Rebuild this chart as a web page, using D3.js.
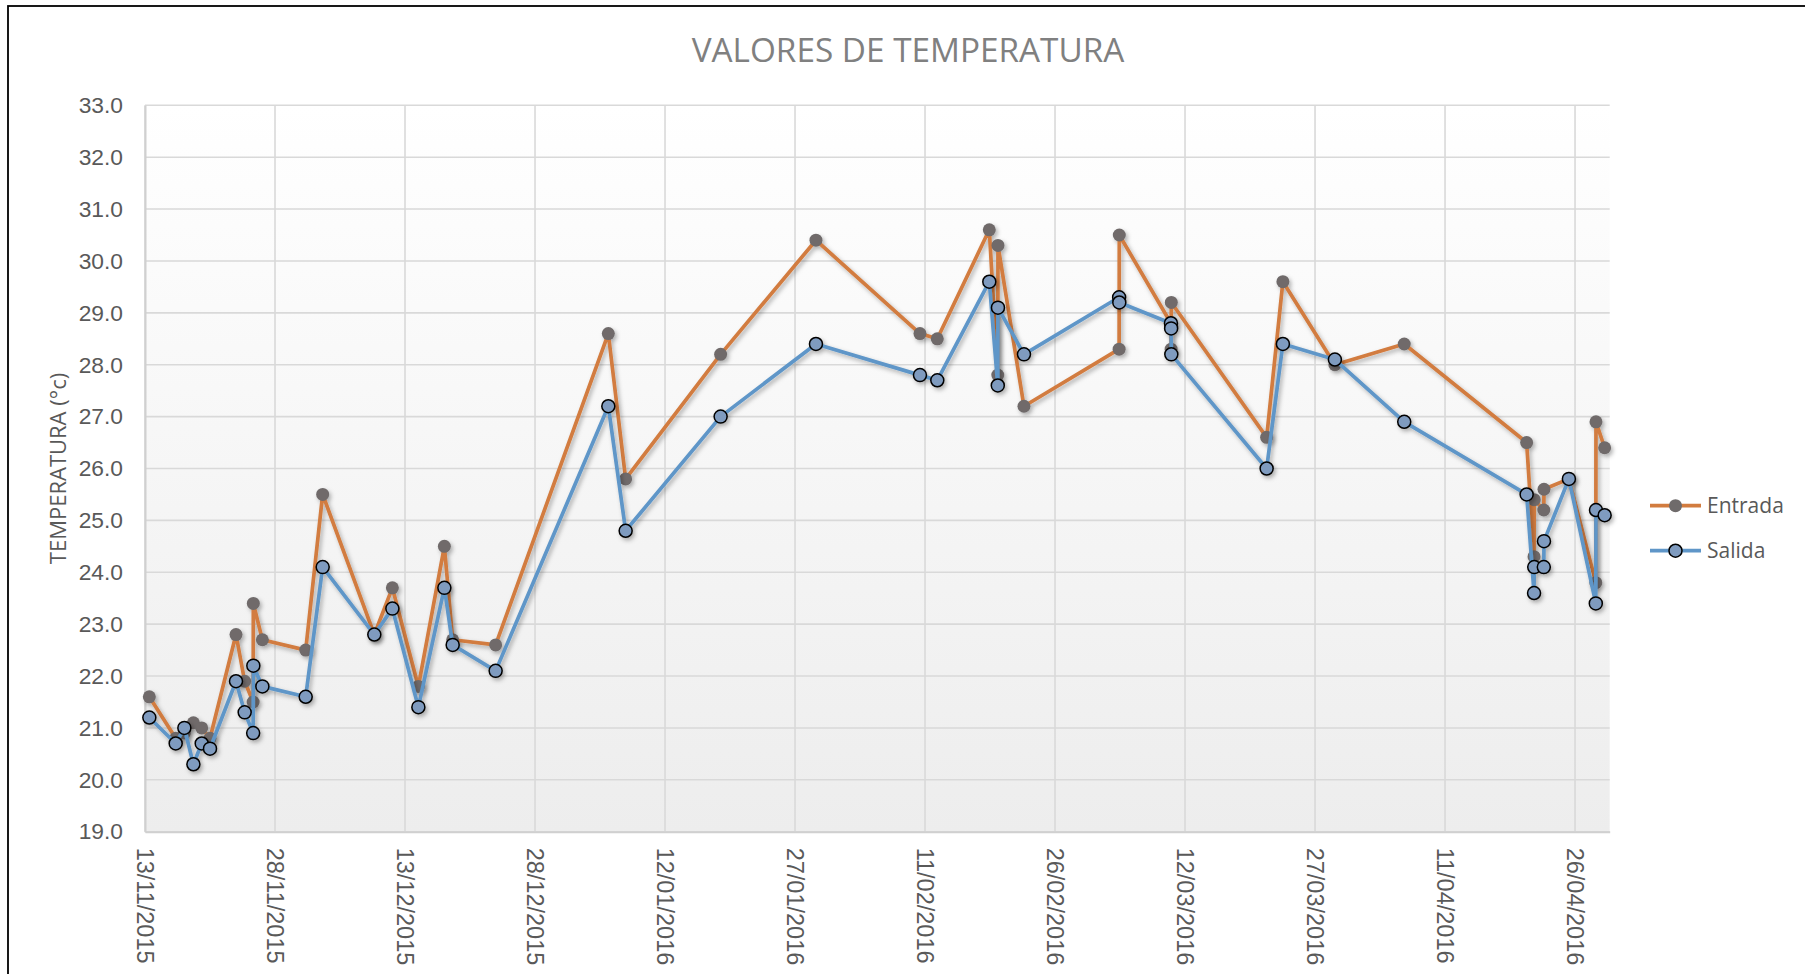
<!DOCTYPE html>
<html>
<head>
<meta charset="utf-8">
<script src="https://cdn.jsdelivr.net/npm/d3@7"></script>
<style>
  html, body { margin: 0; padding: 0; background: #ffffff; }
  svg { display: block; font-family: "Open Sans", "Noto Sans", sans-serif; }
</style>
</head>
<body>
<svg id="chart" width="1805" height="974"></svg>
<script>
// ---- data ----
const title = "VALORES DE TEMPERATURA";
const yAxisTitle = "TEMPERATURA (°c)";
const seriesNames = ["Entrada", "Salida"];

const dates = [
  "2015-11-13T12:00", "2015-11-16T13:00", "2015-11-17T13:00", "2015-11-18T14:00",
  "2015-11-19T13:00", "2015-11-20T12:00", "2015-11-23T12:00", "2015-11-24T12:00",
  "2015-11-25T11:30", "2015-11-25T12:00", "2015-11-26T13:00", "2015-12-01T13:00",
  "2015-12-03T12:00", "2015-12-09T11:00", "2015-12-11T13:00", "2015-12-14T13:00",
  "2015-12-17T13:00", "2015-12-18T12:00", "2015-12-23T11:00", "2016-01-05T11:00",
  "2016-01-07T11:00", "2016-01-18T10:00", "2016-01-29T10:00", "2016-02-10T10:00",
  "2016-02-12T10:00", "2016-02-18T10:00", "2016-02-19T09:30", "2016-02-19T10:00",
  "2016-02-22T10:00", "2016-03-04T09:30", "2016-03-04T10:00", "2016-03-10T09:00",
  "2016-03-10T09:30", "2016-03-10T10:00", "2016-03-21T10:00", "2016-03-23T07:00",
  "2016-03-29T07:00", "2016-04-06T07:00", "2016-04-20T10:00", "2016-04-21T06:30",
  "2016-04-21T07:00", "2016-04-22T09:30", "2016-04-22T10:00", "2016-04-25T07:00",
  "2016-04-28T09:30", "2016-04-28T10:00", "2016-04-29T10:00"
];

const entrada = [
  21.6, 20.8, 20.9, 21.1, 21.0, 20.8, 22.8, 21.9,
  21.5, 23.4, 22.7, 22.5, 25.5, 22.8, 23.7, 21.8,
  24.5, 22.7, 22.6, 28.6, 25.8, 28.2, 30.4, 28.6,
  28.5, 30.6, 27.8, 30.3, 27.2, 28.3, 30.5, 28.8,
  28.3, 29.2, 26.6, 29.6, 28.0, 28.4, 26.5, 24.3,
  25.4, 25.2, 25.6, 25.8, 23.8, 26.9, 26.4
];

const salida = [
  21.2, 20.7, 21.0, 20.3, 20.7, 20.6, 21.9, 21.3,
  20.9, 22.2, 21.8, 21.6, 24.1, 22.8, 23.3, 21.4,
  23.7, 22.6, 22.1, 27.2, 24.8, 27.0, 28.4, 27.8,
  27.7, 29.6, 27.6, 29.1, 28.2, 29.3, 29.2, 28.8,
  28.7, 28.2, 26.0, 28.4, 28.1, 26.9, 25.5, 23.6,
  24.1, 24.1, 24.6, 25.8, 23.4, 25.2, 25.1
];

const xDomain = ["2015-11-13T00:00", "2016-04-30T00:00"];
const xTickStepDays = 15;
const yDomain = [19, 33];
const yTicks = [19, 20, 21, 22, 23, 24, 25, 26, 27, 28, 29, 30, 31, 32, 33];

// ---- styles ----
const colors = {
  entradaLine: "#d27c3f",
  entradaMarker: "#6f6b6b",
  salidaLine: "#5f96c8",
  salidaMarker: "#7f9bbf",
  text: "#595959",
  title: "#808080",
  grid: "#d9d9d9"
};

const margin = { left: 145, top: 105.3, right: 1609.7, bottom: 831.7 };

const parse = d3.utcParse("%Y-%m-%dT%H:%M");
const fmt = d3.utcFormat("%d/%m/%Y");

const svg = d3.select("#chart");

// defs: gradient + shadow
const defs = svg.append("defs");
const grad = defs.append("linearGradient").attr("id", "plotBg")
  .attr("x1", 0).attr("y1", 0).attr("x2", 0).attr("y2", 1);
grad.append("stop").attr("offset", "0%").attr("stop-color", "#ffffff");
grad.append("stop").attr("offset", "100%").attr("stop-color", "#ededed");

const shadow = defs.append("filter").attr("id", "shadow")
  .attr("x", "-20%").attr("y", "-20%").attr("width", "140%").attr("height", "140%");
shadow.append("feDropShadow").attr("dx", 2).attr("dy", 2.5)
  .attr("stdDeviation", 2).attr("flood-color", "#000").attr("flood-opacity", 0.3);

// chart border (only left/top visible)
svg.append("rect")
  .attr("x", 8).attr("y", 6).attr("width", 2000).attr("height", 2000)
  .attr("fill", "none").attr("stroke", "#000").attr("stroke-width", 1.8);

// scales
const x = d3.scaleUtc()
  .domain(xDomain.map(parse))
  .range([margin.left, margin.right]);
const y = d3.scaleLinear()
  .domain(yDomain)
  .range([margin.bottom, margin.top]);

const xStart = parse(xDomain[0]);
const xEnd = parse(xDomain[1]);
const xTicks = d3.utcDay.every(1).range(xStart, d3.utcDay.offset(xEnd, 1))
  .filter((d, i) => i % xTickStepDays === 0);

// plot background
svg.append("rect")
  .attr("x", margin.left).attr("y", margin.top)
  .attr("width", margin.right - margin.left)
  .attr("height", margin.bottom - margin.top)
  .attr("fill", "url(#plotBg)");

// gridlines
const grid = svg.append("g");
grid.selectAll("line.h").data(yTicks).join("line")
  .attr("x1", margin.left).attr("x2", margin.right)
  .attr("y1", d => y(d)).attr("y2", d => y(d))
  .attr("stroke", colors.grid).attr("stroke-width", 1.6);
grid.selectAll("line.v").data(xTicks).join("line")
  .attr("x1", d => x(d)).attr("x2", d => x(d))
  .attr("y1", margin.top).attr("y2", margin.bottom)
  .attr("stroke", colors.grid).attr("stroke-width", 1.6);

// axes
const yAxis = d3.axisLeft(y).tickValues(yTicks).tickFormat(d3.format(".1f")).tickSize(0).tickPadding(22);
const gy = svg.append("g").attr("transform", `translate(${margin.left},0)`).call(yAxis);
gy.select(".domain").attr("stroke", "#d0d0d0").attr("stroke-width", 2);
gy.selectAll("text").attr("fill", colors.text).style("font-size", "22.8px");

const xAxis = d3.axisBottom(x).tickValues(xTicks).tickFormat(fmt).tickSize(0);
const gx = svg.append("g").attr("transform", `translate(0,${margin.bottom})`).call(xAxis);
gx.select(".domain").attr("stroke", "#d0d0d0").attr("stroke-width", 2);
gx.selectAll("text")
  .attr("fill", colors.text).style("font-size", "23.5px")
  .attr("text-anchor", "start")
  .attr("transform", "rotate(90)")
  .attr("x", 16).attr("y", 0).attr("dy", "0.35em");

// title
svg.append("text")
  .attr("x", 908).attr("y", 62)
  .attr("text-anchor", "middle")
  .attr("fill", colors.title)
  .style("font-size", "33.3px")
  .text(title);

// y axis title
svg.append("text")
  .attr("transform", `translate(58,${(margin.top + margin.bottom) / 2}) rotate(-90)`)
  .attr("text-anchor", "middle")
  .attr("dy", "0.35em")
  .attr("fill", colors.text)
  .style("font-size", "22px")
  .text(yAxisTitle);

// series
const parsedDates = dates.map(parse);
const series = [
  { name: seriesNames[0], values: entrada, line: colors.entradaLine, fill: colors.entradaMarker, stroke: "none" },
  { name: seriesNames[1], values: salida, line: colors.salidaLine, fill: colors.salidaMarker, stroke: "#000" }
];

const lineGen = d3.line().x(d => x(d[0])).y(d => y(d[1]));

series.forEach(s => {
  const pts = parsedDates.map((d, i) => [d, s.values[i]]);
  const g = svg.append("g").attr("filter", "url(#shadow)");
  g.append("path").datum(pts)
    .attr("d", lineGen)
    .attr("fill", "none")
    .attr("stroke", s.line)
    .attr("stroke-width", 3.7)
    .attr("stroke-linejoin", "round");
  g.selectAll("circle").data(pts).join("circle")
    .attr("cx", d => x(d[0])).attr("cy", d => y(d[1]))
    .attr("r", 6.5)
    .attr("fill", s.fill)
    .attr("stroke", s.stroke)
    .attr("stroke-width", 1.5);
});

// legend
const legend = svg.append("g");
series.forEach((s, i) => {
  const ly = 505.7 + i * 45;
  const lg = legend.append("g");
  lg.append("line").attr("x1", 1650).attr("x2", 1701).attr("y1", ly).attr("y2", ly)
    .attr("stroke", s.line).attr("stroke-width", 3.7);
  lg.append("circle").attr("cx", 1675.5).attr("cy", ly).attr("r", 6.5)
    .attr("fill", s.fill).attr("stroke", s.stroke).attr("stroke-width", 1.5);
  lg.append("text").attr("x", 1707).attr("y", ly).attr("dy", "0.35em")
    .attr("fill", colors.text).style("font-size", "21px").text(s.name);
});
</script>
</body>
</html>
